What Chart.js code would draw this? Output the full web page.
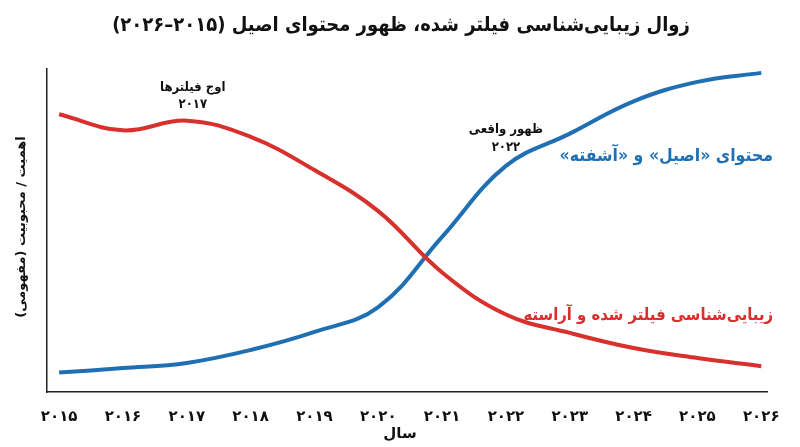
<!DOCTYPE html>
<html lang="fa">
<head>
<meta charset="utf-8">
<script src="https://cdn.jsdelivr.net/npm/chart.js@4.4.1/dist/chart.umd.min.js"></script>
<style>
  html, body { margin: 0; padding: 0; background: #fff; }
  #wrap { width: 800px; height: 447px; }
</style>
</head>
<body>
<div id="wrap"><canvas id="chart" width="800" height="447"></canvas></div>
<script>
// data
const years = [2015, 2016, 2017, 2018, 2019, 2020, 2021, 2022, 2023, 2024, 2025, 2026];
const yearLabels = ["۲۰۱۵", "۲۰۱۶", "۲۰۱۷", "۲۰۱۸", "۲۰۱۹", "۲۰۲۰", "۲۰۲۱", "۲۰۲۲", "۲۰۲۳", "۲۰۲۴", "۲۰۲۵", "۲۰۲۶"];
const filteredValues = [86, 81, 84, 79, 68.7, 56, 37, 24, 18.3, 13.6, 10.5, 8];
const authenticValues = [6, 7.4, 9, 13, 18.6, 26.3, 48, 70, 80, 90, 96, 98.8];

const titleText = "زوال زیبایی‌شناسی فیلتر شده، ظهور محتوای اصیل (۲۰۱۵–۲۰۲۶)";
const yTitle = "اهمیت / محبوبیت (مفهومی)";
const xTitle = "سال";
const filteredName = "زیبایی‌شناسی فیلتر شده و آراسته";
const authenticName = "محتوای «اصیل» و «آشفته»";
const peakNote = ["اوج فیلترها", "۲۰۱۷"];
const riseNote = ["ظهور واقعی", "۲۰۲۲"];

const RED = "#d8302c";
const BLUE = "#1f6fb3";
const FONT = "'DejaVu Sans', sans-serif";
const FONT_C = "'DejaVu Sans Condensed', 'DejaVu Sans', sans-serif";

const textPlugin = {
  id: "texts",
  afterDraw(chart) {
    const ctx = chart.ctx;
    const xs = chart.scales.x;
    ctx.save();
    ctx.direction = "rtl";
    ctx.textBaseline = "middle";

    // title
    ctx.fillStyle = "#111";
    ctx.textAlign = "center";
    ctx.font = "bold 20px " + FONT_C;
    ctx.fillText(titleText, 401, 26);

    // x axis title
    ctx.font = "bold 15px " + FONT;
    ctx.fillText(xTitle, 400, 434);

    // y axis title
    ctx.save();
    ctx.translate(22, 227);
    ctx.rotate(-Math.PI / 2);
    ctx.font = "bold 13px " + FONT;
    ctx.fillText(yTitle, 0, 0);
    ctx.restore();

    // notes
    ctx.font = "bold 13px " + FONT_C;
    const px = xs.getPixelForValue(2017) + 6;
    ctx.fillText(peakNote[0], px, 88);
    ctx.fillText(peakNote[1], px, 105);
    const rx = xs.getPixelForValue(2022);
    ctx.fillText(riseNote[0], rx, 130);
    ctx.fillText(riseNote[1], rx, 148);

    // series labels
    ctx.textAlign = "right";
    ctx.font = "bold 17.5px " + FONT_C;
    ctx.fillStyle = BLUE;
    ctx.fillText(authenticName, 773, 156);
    ctx.font = "bold 16.5px " + FONT_C;
    ctx.fillStyle = RED;
    ctx.fillText(filteredName, 773, 316);
    ctx.restore();
  }
};

new Chart(document.getElementById("chart"), {
  type: "line",
  data: {
    datasets: [
      {
        label: filteredName,
        data: years.map((y, i) => ({ x: y, y: filteredValues[i] })),
        borderColor: RED,
        borderWidth: 4,
        pointRadius: 0,
        tension: 0.4,
        fill: false
      },
      {
        label: authenticName,
        data: years.map((y, i) => ({ x: y, y: authenticValues[i] })),
        borderColor: BLUE,
        borderWidth: 4,
        pointRadius: 0,
        tension: 0.4,
        fill: false
      }
    ]
  },
  options: {
    responsive: false,
    animation: false,
    devicePixelRatio: 1,
    layout: { padding: { left: 47, top: 69, right: 33, bottom: 0 } },
    plugins: {
      legend: { display: false },
      tooltip: { enabled: false },
      title: { display: false }
    },
    scales: {
      x: {
        type: "linear",
        min: 2014.81,
        max: 2026.09,
        afterBuildTicks(scale) {
          scale.ticks = years.map(v => ({ value: v }));
        },
        afterFit(scale) { scale.height = 55; },
        grid: { display: false },
        border: { display: true, color: "#222", width: 1.5 },
        ticks: {
          padding: 8,
          color: "#111",
          font: { family: FONT, size: 15, weight: "bold" },
          callback: (v) => yearLabels[years.indexOf(v)],
          maxRotation: 0,
          autoSkip: false
        }
      },
      y: {
        min: 0,
        max: 100,
        afterFit(scale) { scale.width = 0; },
        grid: { display: false },
        border: { display: true, color: "#222", width: 1.5 },
        ticks: { display: false }
      }
    }
  },
  plugins: [textPlugin]
});
</script>
</body>
</html>
